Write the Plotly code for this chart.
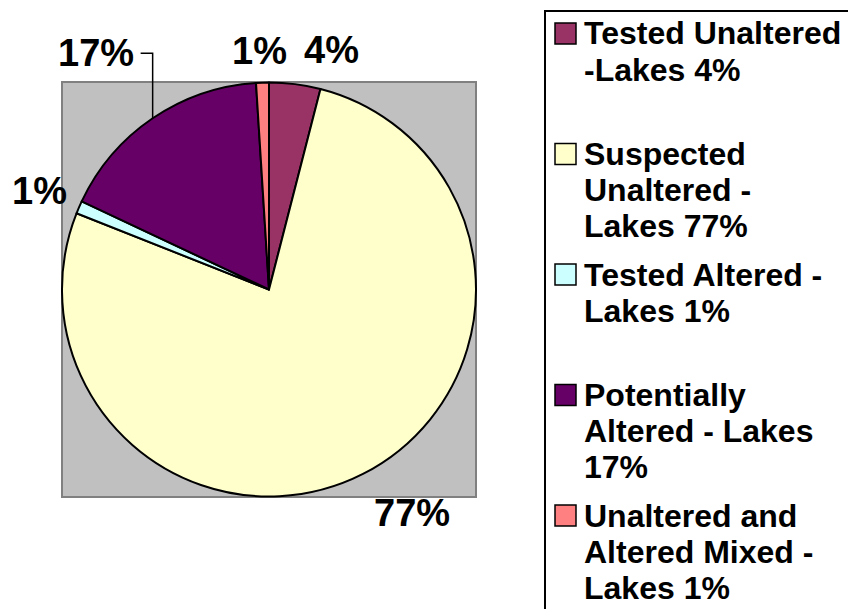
import math
import plotly.graph_objects as go

# ---- data ----
labels = [
    "Tested Unaltered -Lakes",
    "Suspected Unaltered - Lakes",
    "Tested Altered - Lakes",
    "Potentially Altered - Lakes",
    "Unaltered and Altered Mixed - Lakes",
]
legend_lines = [
    ["Tested Unaltered", "-Lakes 4%"],
    ["Suspected", "Unaltered -", "Lakes 77%"],
    ["Tested Altered -", "Lakes 1%"],
    ["Potentially", "Altered - Lakes", "17%"],
    ["Unaltered and", "Altered Mixed -", "Lakes 1%"],
]
values = [4, 77, 1, 17, 1]
colors = ["#993366", "#FFFFCC", "#CCFFFF", "#660066", "#FF8080"]

# ---- style ----
W, H = 848, 609
FONT = "Arial, Liberation Sans, sans-serif"
PX0, PX1, PY0, PY1 = 62, 476, 82, 497          # plot area (px)
LABEL_SIZE = 38
LABEL_GAP = 30
label_shift = [(33, 4), (35, -12), (-12, 4), None, (-2, 2)]  # px nudges (x right, y up)
LEG_X0, LEG_Y0 = 545, 11
LEG_SIZE = 32
LEG_SLOT = 120.5
LEG_LINE = 36


def px(x):
    return x / W


def py(y):
    return 1 - y / H


fig = go.Figure()

fig.add_trace(go.Pie(
    labels=labels,
    values=values,
    sort=False,
    direction="clockwise",
    rotation=0,
    marker=dict(colors=colors, line=dict(color="black", width=2)),
    textinfo="none",
    hoverinfo="label+percent",
    showlegend=False,
    domain=dict(x=[px(PX0), px(PX1)], y=[py(PY1), py(PY0)]),
))

# gray plot area
shapes = [dict(type="rect", xref="paper", yref="paper", layer="below",
               x0=px(PX0), x1=px(PX1), y0=py(PY1), y1=py(PY0),
               fillcolor="#C0C0C0", line=dict(color="#808080", width=2))]

# percentage labels placed from slice angles
cx = (PX0 + PX1) / 2
cy = (PY0 + PY1) / 2
r = min(PX1 - PX0, PY1 - PY0) / 2
total = sum(values)
annotations = []
cum = 0
for i, v in enumerate(values):
    mid = (cum + v / 2) / total * 2 * math.pi
    cum += v
    dx, dy = math.sin(mid), -math.cos(mid)
    txt = f"<b>{round(v / total * 100)}%</b>"
    ex, ey = cx + r * dx, cy + r * dy
    if label_shift[i] is None:
        # label moved up with an elbow leader line
        lx, ly = ex - 12, ey - 65
        annotations.append(dict(x=px(lx - 5), y=py(ly), xref="paper", yref="paper",
                                text=txt, showarrow=False, xanchor="right",
                                yanchor="middle",
                                font=dict(family=FONT, size=LABEL_SIZE, color="black")))
        shapes.append(dict(type="path", xref="paper", yref="paper",
                           path=f"M{px(lx)},{py(ly)} L{px(ex)},{py(ly)} L{px(ex)},{py(ey)}",
                           line=dict(color="black", width=1.5)))
        continue
    R = r + LABEL_GAP
    ax, ay = cx + R * dx, cy + R * dy
    sx, sy = label_shift[i]
    annotations.append(dict(x=px(ax), y=py(ay), xref="paper", yref="paper",
                            text=txt, showarrow=False, xanchor="center",
                            yanchor="middle", xshift=sx, yshift=sy,
                            font=dict(family=FONT, size=LABEL_SIZE, color="black")))

# legend (box partly outside the picture, as in the original)
shapes.append(dict(type="rect", xref="paper", yref="paper",
                   x0=px(LEG_X0), x1=px(W + 30), y0=py(H + 30), y1=py(LEG_Y0),
                   fillcolor="white", line=dict(color="black", width=2)))
for i, (lines, c) in enumerate(zip(legend_lines, colors)):
    top = LEG_Y0 + 12 + LEG_SLOT * i
    shapes.append(dict(type="rect", xref="paper", yref="paper",
                       x0=px(555), x1=px(576), y0=py(top + 21), y1=py(top),
                       fillcolor=c, line=dict(color="black", width=1.5)))
    for j, line in enumerate(lines):
        yc = top + 10.5 + LEG_LINE * j
        annotations.append(dict(x=px(582), y=py(yc), xref="paper", yref="paper",
                                text=f"<b>{line}</b>", showarrow=False,
                                xanchor="left", yanchor="middle",
                                font=dict(family=FONT, size=LEG_SIZE, color="black")))

fig.update_layout(
    width=W, height=H,
    margin=dict(l=0, r=0, t=0, b=0, autoexpand=False),
    paper_bgcolor="white",
    plot_bgcolor="white",
    shapes=shapes,
    annotations=annotations,
    showlegend=False,
)

fig.write_html(
    "out.html",
    config={"displayModeBar": False},
    post_script="document.body.style.margin='0';document.body.style.overflow='hidden';",
)
